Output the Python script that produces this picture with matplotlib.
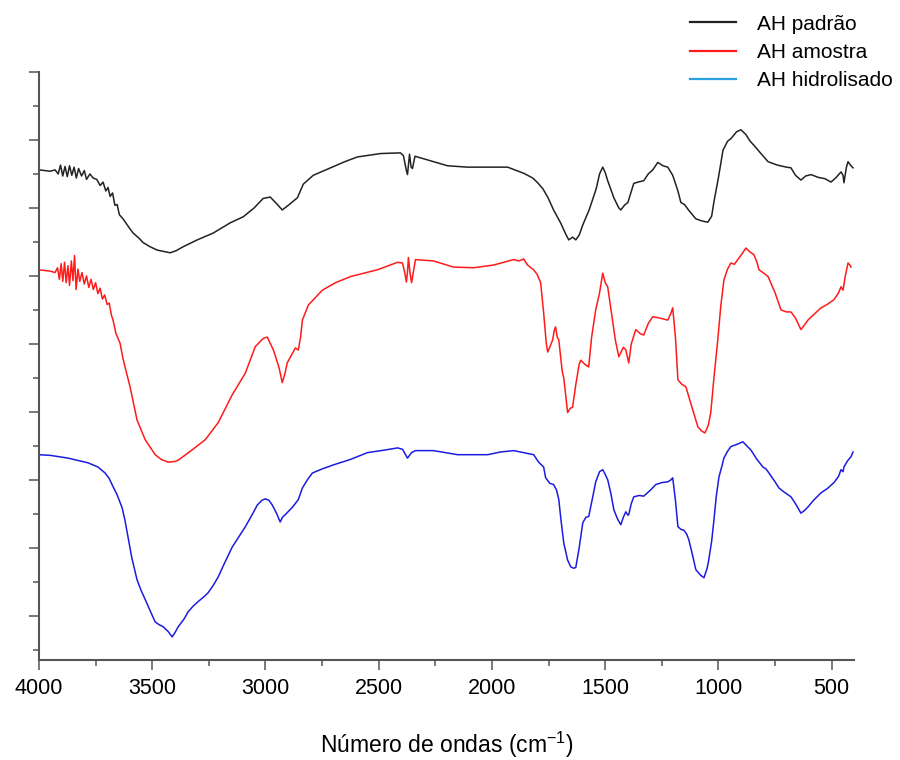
import matplotlib
matplotlib.use("Agg")
import matplotlib.pyplot as plt
from matplotlib.lines import Line2D
from matplotlib.ticker import MultipleLocator, NullFormatter

plt.rcParams['font.family'] = ['Liberation Sans', 'DejaVu Sans']
plt.rcParams['mathtext.default'] = 'regular'

# --- spectra (wavenumber cm-1, transmittance in arbitrary offset units) ---
wn_padrao = [4000, 3951, 3929, 3915, 3905, 3895, 3885, 3875, 3865, 3855, 3845, 3835, 3825,
             3812, 3800, 3790, 3775, 3761, 3745, 3730, 3717, 3705, 3695, 3686, 3675, 3665,
             3655, 3645, 3629, 3600, 3584, 3560, 3540, 3510, 3478, 3450, 3421, 3395, 3363,
             3301, 3231, 3156, 3098, 3050, 3010, 2979, 2950, 2926, 2895, 2859, 2833, 2789,
             2713, 2650, 2594, 2492, 2404, 2391, 2378, 2373, 2364, 2357, 2351, 2340, 2329,
             2258, 2196, 2108, 2019, 1931, 1860, 1820, 1798, 1775, 1754, 1728, 1697, 1675,
             1661, 1644, 1630, 1615, 1599, 1570, 1540, 1525, 1511, 1500, 1489, 1462, 1440,
             1431, 1415, 1400, 1374, 1356, 1330, 1310, 1290, 1268, 1245, 1224, 1202, 1179,
             1166, 1150, 1130, 1100, 1075, 1047, 1030, 1020, 1000, 980, 960, 945, 920, 901,
             879, 860, 843, 815, 781, 740, 700, 680, 660, 636, 615, 591, 560, 530, 503, 480,
             459, 450, 446, 435, 428, 415, 406]
t_padrao = [7.56, 7.54, 7.56, 7.50, 7.63, 7.47, 7.61, 7.46, 7.62, 7.48, 7.60, 7.44, 7.58,
            7.47, 7.55, 7.42, 7.50, 7.44, 7.42, 7.33, 7.38, 7.25, 7.30, 7.17, 7.22, 7.04,
            7.05, 6.90, 6.84, 6.70, 6.63, 6.56, 6.49, 6.43, 6.38, 6.36, 6.34, 6.37, 6.43,
            6.53, 6.63, 6.78, 6.87, 7.00, 7.14, 7.16, 7.06, 6.97, 7.05, 7.15, 7.35, 7.48,
            7.59, 7.68, 7.75, 7.80, 7.81, 7.77, 7.55, 7.49, 7.79, 7.60, 7.58, 7.76, 7.75,
            7.68, 7.62, 7.60, 7.60, 7.60, 7.51, 7.44, 7.37, 7.28, 7.16, 6.97, 6.78, 6.62,
            6.53, 6.57, 6.53, 6.60, 6.75, 6.98, 7.28, 7.50, 7.60, 7.52, 7.40, 7.15, 7.00,
            6.97, 7.04, 7.08, 7.36, 7.38, 7.40, 7.50, 7.56, 7.67, 7.62, 7.60, 7.48, 7.25,
            7.08, 7.05, 6.96, 6.84, 6.81, 6.79, 6.88, 7.09, 7.45, 7.85, 7.98, 8.02, 8.12, 8.15,
            8.08, 7.98, 7.92, 7.81, 7.68, 7.63, 7.60, 7.59, 7.48, 7.41, 7.47, 7.49, 7.45, 7.43,
            7.38, 7.45, 7.53, 7.48, 7.37, 7.60, 7.68, 7.62, 7.59]

wn_amostra = [4000, 3951, 3929, 3918, 3910, 3902, 3895, 3887, 3880, 3872, 3865, 3857, 3850,
              3843, 3836, 3828, 3820, 3810, 3800, 3790, 3780, 3770, 3760, 3750, 3740, 3730,
              3720, 3710, 3699, 3690, 3680, 3673, 3660, 3642, 3630, 3620, 3598, 3567, 3531,
              3487, 3460, 3430, 3400, 3385, 3324, 3266, 3209, 3147, 3089, 3045, 3010, 2992,
              2965, 2940, 2926, 2915, 2904, 2868, 2855, 2845, 2837, 2811, 2749, 2691, 2625,
              2506, 2417, 2395, 2385, 2378, 2373, 2369, 2362, 2355, 2345, 2338, 2258, 2170,
              2081, 1993, 1904, 1880, 1860, 1843, 1816, 1800, 1785, 1772, 1760, 1754, 1745,
              1732, 1725, 1719, 1712, 1705, 1690, 1683, 1666, 1655, 1644, 1630, 1615, 1608,
              1590, 1573, 1560, 1542, 1525, 1511, 1500, 1489, 1470, 1455, 1440, 1420, 1409,
              1400, 1396, 1385, 1365, 1345, 1330, 1310, 1290, 1260, 1224, 1210, 1202, 1190,
              1179, 1160, 1144, 1120, 1091, 1075, 1060, 1045, 1034, 1020, 1003, 990, 976, 960,
              945, 930, 910, 895, 879, 860, 843, 830, 821, 800, 781, 750, 724, 700, 680, 660,
              636, 620, 605, 580, 547, 520, 490, 470, 459, 450, 440, 428, 420, 415]
t_amostra = [6.09, 6.07, 6.05, 6.12, 5.95, 6.18, 5.92, 6.20, 5.90, 6.15, 5.86, 6.22, 5.93,
             6.30, 5.80, 6.10, 5.92, 6.05, 5.88, 6.00, 5.83, 5.95, 5.80, 5.90, 5.74, 5.82,
             5.66, 5.72, 5.58, 5.60, 5.42, 5.35, 5.15, 5.01, 4.80, 4.66, 4.37, 3.88, 3.59,
             3.37, 3.30, 3.26, 3.27, 3.29, 3.44, 3.59, 3.84, 4.25, 4.57, 4.96, 5.08, 5.10,
             4.91, 4.65, 4.43, 4.55, 4.72, 4.94, 4.91, 5.10, 5.35, 5.57, 5.79, 5.90, 5.99,
             6.09, 6.20, 6.19, 6.05, 5.91, 6.05, 6.27, 6.05, 5.90, 6.10, 6.24, 6.22, 6.13,
             6.12, 6.16, 6.24, 6.22, 6.25, 6.16, 6.09, 6.02, 5.90, 5.46, 5.00, 4.88, 4.95,
             5.06, 5.20, 5.25, 5.10, 5.06, 4.60, 4.50, 3.99, 4.05, 4.07, 4.40, 4.70, 4.76,
             4.70, 4.66, 5.10, 5.50, 5.75, 6.04, 5.90, 5.84, 5.40, 5.05, 4.81, 4.95, 4.91,
             4.78, 4.72, 5.00, 5.21, 5.15, 5.13, 5.30, 5.40, 5.38, 5.35, 5.45, 5.53, 5.10,
             4.47, 4.40, 4.37, 4.10, 3.78, 3.72, 3.69, 3.80, 3.99, 4.50, 5.06, 5.55, 5.94, 6.10,
             6.19, 6.17, 6.26, 6.33, 6.41, 6.35, 6.31, 6.20, 6.09, 6.04, 5.99, 5.75, 5.50, 5.47,
             5.47, 5.38, 5.21, 5.28, 5.35, 5.43, 5.53, 5.58, 5.65, 5.75, 5.84, 5.79, 6.00, 6.19,
             6.16, 6.13]

wn_hidrolisado = [4000, 3950, 3872, 3783, 3740, 3708, 3690, 3673, 3655, 3633, 3620, 3607,
                  3590, 3567, 3550, 3531, 3510, 3487, 3470, 3452, 3430, 3412, 3400, 3385,
                  3360, 3341, 3320, 3297, 3275, 3253, 3230, 3209, 3180, 3147, 3120, 3089,
                  3060, 3036, 3015, 3001, 2985, 2970, 2950, 2935, 2925, 2912, 2880, 2855,
                  2837, 2815, 2793, 2750, 2700, 2625, 2550, 2470, 2417, 2395, 2373, 2355,
                  2338, 2258, 2152, 2019, 1962, 1904, 1860, 1816, 1794, 1772, 1763, 1745,
                  1728, 1715, 1705, 1695, 1683, 1666, 1652, 1640, 1630, 1615, 1599, 1585,
                  1573, 1555, 1542, 1525, 1511, 1500, 1489, 1475, 1462, 1445, 1431, 1420,
                  1409, 1400, 1396, 1385, 1374, 1350, 1330, 1300, 1277, 1250, 1224, 1210,
                  1202, 1190, 1179, 1165, 1153, 1140, 1131, 1115, 1100, 1080, 1064, 1050,
                  1043, 1030, 1020, 1010, 998, 985, 976, 960, 945, 920, 892, 875, 857, 830,
                  804, 790, 777, 750, 733, 710, 680, 660, 636, 620, 605, 580, 547, 520, 490,
                  470, 459, 450, 446, 430, 415, 406]
t_hidrolisado = [3.37, 3.36, 3.32, 3.25, 3.19, 3.10, 3.02, 2.90, 2.78, 2.59, 2.40, 2.16,
                 1.85, 1.53, 1.38, 1.24, 1.08, 0.91, 0.87, 0.84, 0.77, 0.69, 0.75, 0.84,
                 0.95, 1.06, 1.14, 1.21, 1.27, 1.34, 1.45, 1.57, 1.78, 2.01, 2.15, 2.31,
                 2.48, 2.63, 2.70, 2.72, 2.70, 2.63, 2.50, 2.38, 2.45, 2.49, 2.60, 2.71,
                 2.88, 3.00, 3.10, 3.16, 3.22, 3.30, 3.40, 3.44, 3.47, 3.45, 3.32, 3.40,
                 3.43, 3.43, 3.37, 3.37, 3.41, 3.43, 3.40, 3.37, 3.26, 3.19, 3.03, 2.95,
                 2.93, 2.85, 2.71, 2.40, 2.07, 1.82, 1.72, 1.70, 1.71, 2.00, 2.37, 2.45,
                 2.46, 2.75, 2.97, 3.12, 3.15, 3.08, 3.00, 2.80, 2.56, 2.42, 2.34, 2.45,
                 2.53, 2.48, 2.49, 2.65, 2.75, 2.77, 2.76, 2.85, 2.93, 2.96, 2.97, 3.00,
                 3.03, 2.70, 2.31, 2.27, 2.26, 2.20, 2.12, 1.90, 1.68, 1.60, 1.56, 1.70,
                 1.82, 2.10, 2.41, 2.75, 3.04, 3.20, 3.32, 3.42, 3.49, 3.52, 3.56, 3.50,
                 3.44, 3.30, 3.19, 3.16, 3.10, 2.97, 2.88, 2.82, 2.75, 2.65, 2.51, 2.55,
                 2.60, 2.70, 2.81, 2.87, 2.96, 3.05, 3.15, 3.12, 3.19, 3.28, 3.34, 3.41]

labels = ['AH padrão', 'AH amostra', 'AH hidrolisado']
line_colors = ['#222222', '#ff1a1a', '#1c1ce0']
legend_colors = ['#222222', '#ff1a1a', '#29a3e0']

fig = plt.figure(figsize=(9, 7.6), dpi=100)
ax = fig.add_axes([0.0433, 0.1316, 0.906, 0.7737])

ax.plot(wn_padrao, t_padrao, color=line_colors[0], lw=1.1)
ax.plot(wn_amostra, t_amostra, color=line_colors[1], lw=1.1)
ax.plot(wn_hidrolisado, t_hidrolisado, color=line_colors[2], lw=1.1)

ax.set_xlim(4000, 400)
ax.set_ylim(0.35, 9)
ax.xaxis.set_major_locator(MultipleLocator(500))
ax.xaxis.set_minor_locator(MultipleLocator(250))
ax.yaxis.set_major_locator(MultipleLocator(1))
ax.yaxis.set_minor_locator(MultipleLocator(0.5))
ax.yaxis.set_major_formatter(NullFormatter())

for side in ['top', 'right']:
    ax.spines[side].set_visible(False)
for side in ['left', 'bottom']:
    ax.spines[side].set_linewidth(1.5)
    ax.spines[side].set_color('#555555')

ax.tick_params(which='major', length=7, width=1.1, color='#555555', labelsize=15.5, pad=6)
ax.tick_params(which='minor', length=4, width=1.1, color='#555555')
ax.set_xlabel('Número de ondas (cm$^{-1}$)', fontsize=16.5, labelpad=22)

handles = [Line2D([], [], color=c, lw=1.6) for c in legend_colors]
fig.legend(handles, labels, loc='upper left', bbox_to_anchor=(0.751, 1.0),
           frameon=False, fontsize=15, handlelength=2.2, handletextpad=1.0,
           labelspacing=0.45, borderaxespad=0.3)

fig.savefig('out.png', dpi=100)
